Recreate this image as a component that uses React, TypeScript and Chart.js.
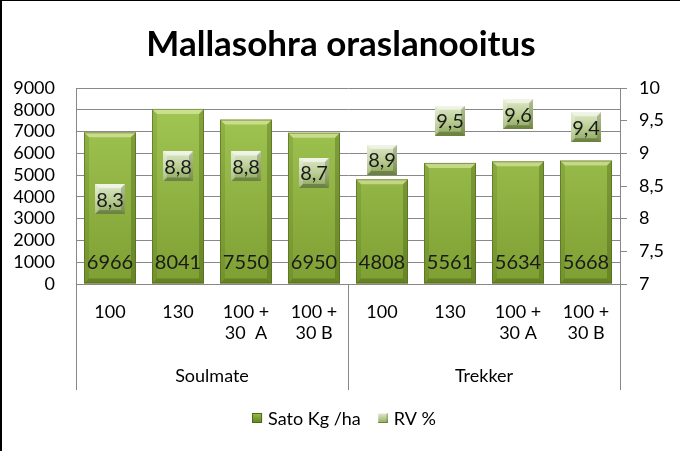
import React, { useEffect, useRef } from "react";
import { Chart, registerables } from "chart.js";

Chart.register(...registerables);

const chartTitle = "Mallasohra oraslanooitus";
const categories: string[][] = [
  ["100"], ["130"], ["100 +", "30  A"], ["100 +", "30 B"],
  ["100"], ["130"], ["100 +", "30 A"], ["100 +", "30 B"],
];
const groups = ["Soulmate", "Trekker"];
const groupSizes = [4, 4];
const satoLabel = "Sato Kg /ha";
const rvLabel = "RV %";
const satoValues = [6966, 8041, 7550, 6950, 4808, 5561, 5634, 5668];
const rvValues = [8.3, 8.8, 8.8, 8.7, 8.9, 9.5, 9.6, 9.4];

const FONT = "Lato, 'Noto Sans', sans-serif";
const GRID = "#888888";

function fmtComma(v: number, digits?: number) {
  const s = digits === undefined ? String(v) : v.toFixed(digits);
  return s.replace(".", ",");
}

function makeBox(size: number): HTMLCanvasElement {
  const c = document.createElement("canvas");
  c.width = size;
  c.height = size;
  const ctx = c.getContext("2d")!;
  const g = ctx.createLinearGradient(0, 0, 0, size);
  g.addColorStop(0, "#dfe9cb");
  g.addColorStop(0.5, "#bccf96");
  g.addColorStop(1, "#8ea65c");
  ctx.fillStyle = g;
  ctx.fillRect(0, 0, size, size);
  const b = 4;
  const poly = (pts: number[][], col: string) => {
    ctx.beginPath();
    ctx.moveTo(pts[0][0], pts[0][1]);
    for (let i = 1; i < pts.length; i++) ctx.lineTo(pts[i][0], pts[i][1]);
    ctx.closePath();
    ctx.fillStyle = col;
    ctx.fill();
  };
  poly([[0, 0], [size, 0], [size - b, b], [b, b]], "rgba(255,255,255,0.55)");
  poly([[0, size], [size, size], [size - b, size - b], [b, size - b]], "rgba(40,60,10,0.35)");
  poly([[0, 0], [b, b], [b, size - b], [0, size]], "rgba(255,255,255,0.25)");
  poly([[size, 0], [size - b, b], [size - b, size - b], [size, size]], "rgba(40,60,10,0.25)");
  return c;
}

export default function App() {
  const ref = useRef<HTMLCanvasElement | null>(null);

  useEffect(() => {
    document.body.style.margin = "0";
    const canvas = ref.current!;
    const box = makeBox(30);

    const barGradient = (ctx: CanvasRenderingContext2D, top: number, bottom: number) => {
      const g = ctx.createLinearGradient(0, top, 0, bottom);
      g.addColorStop(0, "#a5ca56");
      g.addColorStop(1, "#7e9f33");
      return g;
    };

    const decor = {
      id: "decor",
      beforeDraw(chart: any) {
        const ctx = chart.ctx;
        ctx.save();
        ctx.fillStyle = "#ffffff";
        ctx.fillRect(0, 0, chart.width, chart.height);
        ctx.fillStyle = "#000000";
        ctx.fillRect(0, 0, 2, chart.height);
        ctx.fillRect(0, 0, chart.width, 1);
        ctx.restore();
      },
      afterDatasetDraw(chart: any, args: any) {
        if (args.index !== 0) return;
        const ctx = chart.ctx;
        const meta = chart.getDatasetMeta(0);
        ctx.save();
        meta.data.forEach((el: any) => {
          const { x, y, base, width } = el.getProps(["x", "y", "base", "width"], true);
          const l = x - width / 2, r = x + width / 2;
          const b = 5;
          const poly = (pts: number[][], col: string) => {
            ctx.beginPath();
            ctx.moveTo(pts[0][0], pts[0][1]);
            for (let i = 1; i < pts.length; i++) ctx.lineTo(pts[i][0], pts[i][1]);
            ctx.closePath();
            ctx.fillStyle = col;
            ctx.fill();
          };
          poly([[l, y], [r, y], [r - b, y + b], [l + b, y + b]], "rgba(255,255,210,0.45)");
          poly([[l, base], [r, base], [r - b, base - b], [l + b, base - b]], "rgba(40,60,0,0.3)");
          poly([[l, y], [l + b, y + b], [l + b, base - b], [l, base]], "rgba(40,60,0,0.12)");
          poly([[r, y], [r - b, y + b], [r - b, base - b], [r, base]], "rgba(40,60,0,0.25)");
          ctx.strokeStyle = "rgba(80,100,30,0.6)";
          ctx.lineWidth = 1;
          ctx.strokeRect(l + 0.5, y + 0.5, width - 1, base - y - 1);
        });
        ctx.restore();
      },
      afterDatasetsDraw(chart: any) {
        const ctx = chart.ctx;
        ctx.save();
        ctx.font = `20px ${FONT}`;
        ctx.fillStyle = "#1a1a1a";
        ctx.textAlign = "center";
        ctx.textBaseline = "middle";
        const m0 = chart.getDatasetMeta(0);
        m0.data.forEach((el: any, i: number) => {
          const { x, base } = el.getProps(["x", "base"], true);
          ctx.fillText(String(chart.data.datasets[0].data[i]), x, base - 21);
        });
        const m1 = chart.getDatasetMeta(1);
        m1.data.forEach((el: any, i: number) => {
          const { x, y } = el.getProps(["x", "y"], true);
          ctx.fillText(fmtComma(chart.data.datasets[1].data[i], 1), x, y + 1);
        });
        ctx.restore();
      },
      afterDraw(chart: any) {
        const ctx = chart.ctx;
        const area = chart.chartArea;
        const xs = chart.scales.x;
        ctx.save();
        // title
        ctx.font = `bold 35px ${FONT}`;
        ctx.fillStyle = "#000000";
        ctx.textAlign = "center";
        ctx.textBaseline = "middle";
        ctx.fillText(chartTitle, 341, 45);
        // group separators and labels
        const lineBottom = 390;
        ctx.strokeStyle = GRID;
        ctx.lineWidth = 1;
        let start = 0;
        const bounds: number[] = [area.left];
        groupSizes.forEach((n) => {
          const end = start + n - 1;
          const rightEdge = end === categories.length - 1
            ? area.right
            : (xs.getPixelForValue(end) + xs.getPixelForValue(end + 1)) / 2;
          bounds.push(rightEdge);
          start += n;
        });
        bounds.forEach((bx) => {
          const px = Math.round(bx) + 0.5;
          ctx.beginPath();
          ctx.moveTo(px, area.bottom);
          ctx.lineTo(px, lineBottom);
          ctx.stroke();
        });
        ctx.font = `18px ${FONT}`;
        ctx.fillStyle = "#000000";
        groups.forEach((g, i) => {
          ctx.fillText(g, (bounds[i] + bounds[i + 1]) / 2, 376);
        });
        // legend
        const items = chart.data.datasets.map((d: any) => d.label);
        ctx.font = `18px ${FONT}`;
        const icon = 10, gap = 6, spacing = 17;
        const widths = items.map((t: string) => icon + gap + ctx.measureText(t).width);
        const total = widths.reduce((a: number, b: number) => a + b, 0) + spacing * (items.length - 1);
        let lx = 344 - total / 2;
        const ly = 418;
        items.forEach((t: string, i: number) => {
          if (i === 0) {
            const g = ctx.createLinearGradient(0, ly - 5, 0, ly + 5);
            g.addColorStop(0, "#9cc24c");
            g.addColorStop(1, "#5f7f20");
            ctx.fillStyle = g;
            ctx.fillRect(lx, ly - 5, icon, icon);
            ctx.strokeStyle = "#4d6a18";
            ctx.strokeRect(lx + 0.5, ly - 4.5, icon - 1, icon - 1);
          } else {
            ctx.drawImage(box, lx, ly - 5, icon, icon);
          }
          ctx.fillStyle = "#000000";
          ctx.textAlign = "left";
          ctx.fillText(t, lx + icon + gap, ly + 1);
          lx += widths[i] + spacing;
        });
        ctx.restore();
      },
    };

    const chart = new Chart(canvas, {
      type: "bar",
      data: {
        labels: categories,
        datasets: [
          {
            type: "bar",
            label: satoLabel,
            data: satoValues,
            yAxisID: "y",
            order: 2,
            backgroundColor: (c: any) => {
              const a = c.chart.chartArea;
              if (!a) return "#8db33e";
              return barGradient(c.chart.ctx, a.top, a.bottom);
            },
            borderWidth: 0,
            barPercentage: 0.765,
            categoryPercentage: 1,
          },
          {
            type: "line",
            label: rvLabel,
            data: rvValues,
            yAxisID: "y2",
            order: 1,
            showLine: false,
            pointStyle: box as any,
            pointRadius: 15,
            pointHoverRadius: 15,
          } as any,
        ],
      },
      options: {
        responsive: false,
        animation: false,
        events: [],
        layout: { padding: { top: 88, bottom: 61, left: 0, right: 0 } },
        plugins: {
          legend: { display: false },
          title: { display: false },
          tooltip: { enabled: false },
        },
        scales: {
          x: {
            grid: { display: false, drawTicks: false },
            border: { display: false },
            ticks: {
              color: "#000000",
              font: { family: FONT, size: 18, lineHeight: 1.2 },
              padding: 17,
              maxRotation: 0,
              autoSkip: false,
            },
            afterFit: (s: any) => { s.height = 106; },
          },
          y: {
            position: "left",
            min: 0,
            max: 9000,
            grid: { color: GRID, drawTicks: false },
            border: { display: true, color: GRID },
            ticks: {
              stepSize: 1000,
              autoSkip: false,
              color: "#000000",
              font: { family: FONT, size: 18 },
              padding: 21,
              callback: (v: any) => String(v),
            },
            afterFit: (s: any) => { s.width = 76; },
          },
          y2: {
            position: "right",
            min: 7,
            max: 10,
            grid: { drawOnChartArea: false, drawTicks: true, tickLength: 7, color: GRID },
            border: { display: true, color: GRID },
            ticks: {
              stepSize: 0.5,
              autoSkip: false,
              color: "#000000",
              font: { family: FONT, size: 18 },
              padding: 12,
              callback: (v: any) => fmtComma(Number(v)),
            },
            afterFit: (s: any) => { s.width = 60; },
          },
        },
      },
      plugins: [decor],
    } as any);

    return () => chart.destroy();
  }, []);

  return (
    <canvas
      ref={ref}
      width={680}
      height={451}
      style={{ display: "block", width: 680, height: 451 }}
    />
  );
}
